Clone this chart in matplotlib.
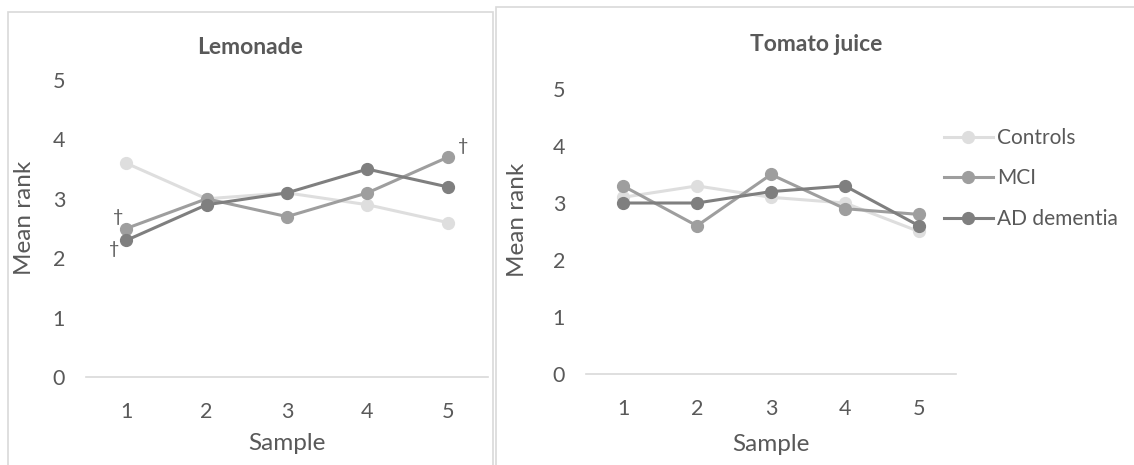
import matplotlib
matplotlib.use("Agg")
import matplotlib.pyplot as plt
from matplotlib.patches import Rectangle

# Data
samples = [1, 2, 3, 4, 5]
groups = ["Controls", "MCI", "AD dementia"]

lemonade_controls = [3.6, 3.0, 3.1, 2.9, 2.6]
lemonade_mci = [2.5, 3.0, 2.7, 3.1, 3.7]
lemonade_ad = [2.3, 2.9, 3.1, 3.5, 3.2]

tomato_controls = [3.1, 3.3, 3.1, 3.0, 2.5]
tomato_mci = [3.3, 2.6, 3.5, 2.9, 2.8]
tomato_ad = [3.0, 3.0, 3.2, 3.3, 2.6]

y_ticks = [0, 1, 2, 3, 4, 5]

COLORS = ["#DEDEDE", "#9E9E9E", "#7F7F7F"]
TEXT = "#595959"
GRID = "#D9D9D9"

plt.rcParams["font.family"] = ["Lato", "DejaVu Sans"]

W, H = 1134, 465
fig = plt.figure(figsize=(W / 100, H / 100), dpi=100)


def fx(px):
    return px / W


def fy(py):
    return 1 - py / H


# Panel borders (chart areas)
fig.patches.append(Rectangle((fx(8), fy(470)), fx(485), fy(12) - fy(470),
                             transform=fig.transFigure, fill=False,
                             edgecolor=GRID, linewidth=1.2))
fig.patches.append(Rectangle((fx(496), fy(470)), fx(640), fy(7) - fy(470),
                             transform=fig.transFigure, fill=False,
                             edgecolor=GRID, linewidth=1.2))


def style_axes(ax):
    ax.set_xlim(0.5, 5.5)
    ax.set_ylim(0, 5)
    ax.set_xticks(samples)
    ax.set_yticks(y_ticks)
    for side in ["top", "right", "left"]:
        ax.spines[side].set_visible(False)
    ax.spines["bottom"].set_color(GRID)
    ax.spines["bottom"].set_linewidth(1.2)
    ax.tick_params(axis="both", length=0, labelsize=15.5, colors=TEXT)
    ax.tick_params(axis="y", pad=15)
    ax.tick_params(axis="x", pad=18)
    ax.patch.set_alpha(0)


def plot_series(ax, series):
    for vals, label, color in zip(series, groups, COLORS):
        ax.plot(samples, vals, color=color, linewidth=2.2, marker="o",
                markersize=8.5, label=label)


# Left panel: Lemonade
ax1 = fig.add_axes([fx(86), fy(377), fx(488) - fx(86), fy(80) - fy(377)])
plot_series(ax1, [lemonade_controls, lemonade_mci, lemonade_ad])
style_axes(ax1)
fig.text(fx(250), fy(54), "Lemonade", ha="center", va="baseline",
         fontsize=16.5, fontweight="bold", color=TEXT)
fig.text(fx(25), fy(218), "Mean rank", rotation=90, ha="center", va="center",
         fontsize=17.5, color=TEXT)
fig.text(fx(287), fy(443), "Sample", ha="center", va="center",
         fontsize=17.5, color=TEXT)

# significance markers
ax1.annotate("†", (1, lemonade_mci[0]), xytext=(-6, 8), textcoords="offset points",
             ha="center", va="center", fontsize=13, color=TEXT)
ax1.annotate("†", (1, lemonade_ad[0]), xytext=(-9, -6), textcoords="offset points",
             ha="center", va="center", fontsize=13, color=TEXT)
ax1.annotate("†", (5, lemonade_mci[4]), xytext=(11, 8), textcoords="offset points",
             ha="center", va="center", fontsize=13, color=TEXT)

# Right panel: Tomato juice
ax2 = fig.add_axes([fx(586), fy(374), fx(956) - fx(586), fy(89) - fy(374)])
plot_series(ax2, [tomato_controls, tomato_mci, tomato_ad])
style_axes(ax2)
fig.text(fx(816), fy(51), "Tomato juice", ha="center", va="baseline",
         fontsize=16.5, fontweight="bold", color=TEXT)
fig.text(fx(517), fy(220), "Mean rank", rotation=90, ha="center", va="center",
         fontsize=17.5, color=TEXT)
fig.text(fx(771), fy(444), "Sample", ha="center", va="center",
         fontsize=17.5, color=TEXT)

leg = ax2.legend(loc="upper left", bbox_to_anchor=(fx(944), fy(128)),
                 bbox_transform=fig.transFigure, frameon=False, fontsize=15,
                 handlelength=2.35, handletextpad=0.2, labelspacing=0.98,
                 borderpad=0, borderaxespad=0)
for t in leg.get_texts():
    t.set_color(TEXT)

fig.savefig("out.png", dpi=100)
